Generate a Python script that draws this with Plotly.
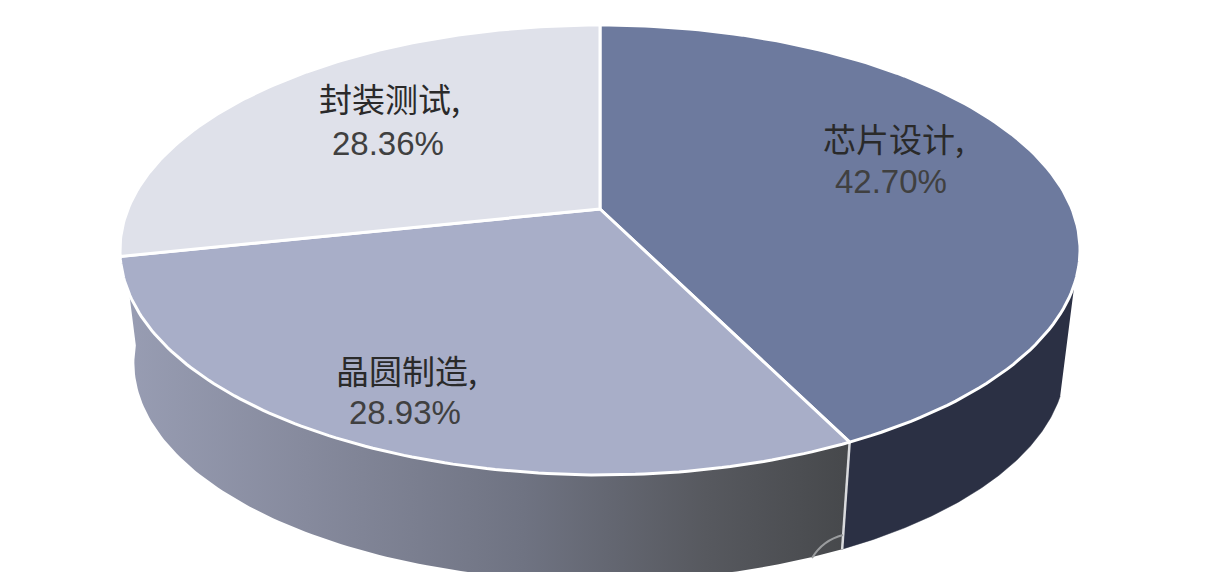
"""
Chip industry value split, drawn as a tilted 3D pie
"""
import numpy as np
import plotly.graph_objects as go

labels = ["芯片设计", "晶圆制造", "封装测试"]
shares = [42.70, 28.93, 28.36]

top_colors = ["#6d7a9e", "#a8aec8", "#dfe1ea"]
name_x = [893, 406, 389]
name_y = [138, 370, 98]
share_x = [891, 405, 388]
share_y = [181, 412, 143]

# projection of the disc onto the page
CX, CY = 600, 209
RX, RY = 472, 217.5
TILT = 0.1822
# lower rim of the wall
DROP = 114
SHRINK = 0.97


def rim(start, stop, lower=False, n=120):
    """Page coordinates along the rim, angles in degrees clockwise from 12 o'clock"""
    t = np.radians(np.linspace(start, stop, n))
    d = 1 + TILT * np.cos(t)
    x = RX * np.sin(t) / d
    y = -RY * np.cos(t) / d
    if lower:
        return CX + SHRINK * x, CY + SHRINK * y + DROP
    return CX + x, CY + y


edges = np.cumsum([0] + shares) / sum(shares) * 360
fig = go.Figure()

# wall, right part is flat dark, left part fades out to the left
seam = edges[1]
x1, y1 = rim(109, seam)
x2, y2 = rim(109, seam, lower=True)
fig.add_trace(go.Scatter(
    x=np.r_[x1, x2[::-1]], y=np.r_[y1, y2[::-1]],
    mode="lines", fill="toself", fillcolor="#2b3044",
    line=dict(color="#2b3044", width=0.5), hoverinfo="skip",
))

x1, y1 = rim(seam, 264)
x2, y2 = rim(seam, 264, lower=True)
fig.add_trace(go.Scatter(
    x=np.r_[x1, x2[::-1]], y=np.r_[y1, y2[::-1]],
    mode="lines", line=dict(width=0), hoverinfo="skip",
    fill="toself",
    fillgradient=dict(
        type="horizontal", start=125, stop=850,
        colorscale=[[0, "#989db3"], [0.25, "#868a9d"], [0.55, "#6f7382"],
                    [0.8, "#57595f"], [1, "#46484b"]],
    ),
))

# seam between the two wall parts
sx1, sy1 = rim(seam, seam, n=1)
sx2, sy2 = rim(seam, seam, lower=True, n=1)
fig.add_trace(go.Scatter(
    x=np.r_[sx1, sx2], y=np.r_[sy1, sy2], mode="lines",
    line=dict(color="#d9dadd", width=2.5), hoverinfo="skip",
))

# top face
for i, name in enumerate(labels):
    x, y = rim(edges[i], edges[i + 1])
    fig.add_trace(go.Scatter(
        x=np.r_[CX, x, CX], y=np.r_[CY, y, CY],
        mode="lines", fill="toself", fillcolor=top_colors[i],
        line=dict(color="white", width=3), name=name, hoverinfo="skip",
    ))

for i, name in enumerate(labels):
    fig.add_annotation(
        x=name_x[i], y=name_y[i], showarrow=False,
        text=f"{name},",
        font=dict(family="Noto Sans CJK SC", size=33, color="#2a2a2a"),
    )
    fig.add_annotation(
        x=share_x[i], y=share_y[i], showarrow=False,
        text=f"{shares[i]:.2f}%",
        font=dict(family="Liberation Sans", size=33, color="#404040"),
    )

# small stamp left on the wall near the seam
fig.add_shape(
    type="path", path="M 812 558 Q 823 540 843 535",
    line=dict(color="#9a9c9e", width=2), layer="above",
)

fig.update_xaxes(visible=False, range=[0, 1206])
fig.update_yaxes(visible=False, range=[572, 0])
fig.update_layout(
    width=1206, height=572, showlegend=False,
    margin=dict(l=0, r=0, t=0, b=0),
    paper_bgcolor="white", plot_bgcolor="white",
)

fig.write_html(
    "out.html",
    config=dict(displayModeBar=False),
    post_script="document.body.style.margin = '0';",
)
